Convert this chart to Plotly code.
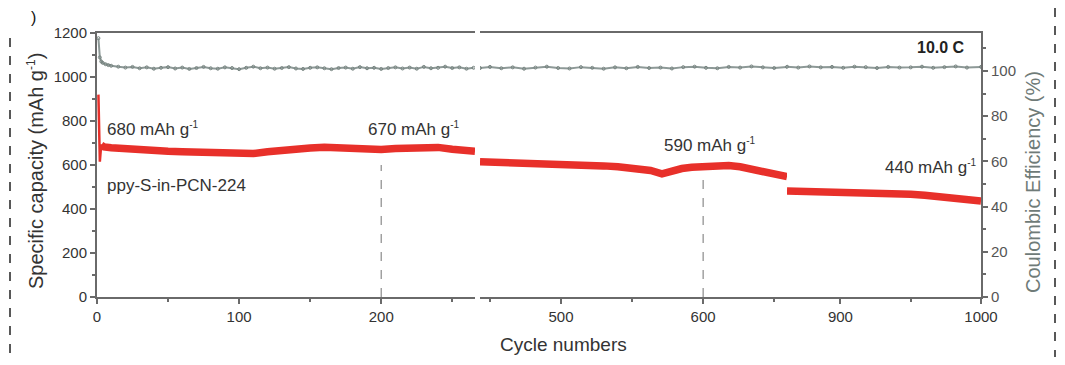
import plotly.graph_objects as go

# ---------------- data ----------------
# specific capacity (mAh g-1), three cycle windows of the broken x axis
cap0_x = [1, 2, 3]
cap0_y = [920, 615, 695]
cap1_x = [3, 5, 10, 20, 30, 40, 50, 60, 70, 80, 90, 100, 110, 120, 130, 140, 150, 160,
          170, 180, 190, 200, 210, 220, 230, 240, 250, 260, 266]
cap1_y = [690, 682, 678, 672, 668, 665, 662, 660, 659, 658, 657, 655, 652, 660, 668, 673,
          677, 681, 677, 673, 671, 671, 675, 679, 683, 680, 672, 666, 662]
cap2_x = [443, 450, 460, 470, 480, 490, 500, 510, 520, 530, 540, 550, 556, 563, 571, 578,
          585, 592, 600, 610, 618, 626, 634, 642, 650, 655, 659]
cap2_y = [615, 614, 612, 611, 609, 607, 604, 602, 599, 596, 592, 587, 582, 575, 560, 574,
          584, 590, 594, 598, 598, 592, 582, 570, 560, 552, 547]
cap3_x = [862, 870, 880, 890, 900, 910, 920, 930, 940, 950, 960, 970, 980, 990, 1000]
cap3_y = [482, 481, 482, 480, 479, 478, 476, 474, 471, 467, 462, 456, 449, 442, 436]

# coulombic efficiency (%)
ce1_x = [1, 2, 3, 4, 6, 8, 10, 15, 20, 25, 30, 35, 40, 45, 50, 55, 60, 65, 70, 75, 80, 85,
         90, 95, 100, 105, 110, 115, 120, 125, 130, 135, 140, 145, 150, 155, 160, 165, 170,
         175, 180, 185, 190, 195, 200, 205, 210, 215, 220, 225, 230, 235, 240, 245, 250,
         255, 260, 265]
ce1_y = [114.5, 106.0, 104.2, 103.6, 103.0, 102.6, 102.3, 101.9, 101.5, 101.8, 101.2, 101.6,
         101.0, 101.4, 101.7, 101.1, 101.5, 100.9, 101.3, 101.8, 101.2, 101.0, 101.6, 101.3,
         100.8, 101.4, 101.9, 101.2, 101.5, 101.0, 101.3, 101.7, 101.1, 100.9, 101.4, 101.6,
         101.2, 100.8, 101.3, 101.5, 101.0, 101.7, 101.2, 101.4, 100.9, 101.3, 101.6, 101.1,
         101.5, 101.0, 101.8, 101.2, 101.4, 101.9, 101.3, 101.6, 101.0, 101.4]
ce2_x = [443, 450, 458, 466, 474, 482, 490, 498, 506, 514, 522, 530, 538, 546, 554, 562,
         570, 578, 586, 594, 602, 610, 618, 626, 634, 642, 650, 659]
ce2_y = [101.3, 101.8, 101.2, 101.6, 101.0, 101.5, 101.9, 101.3, 101.1, 101.7, 101.4, 101.0,
         101.6, 101.2, 101.8, 101.3, 101.5, 101.1, 101.7, 101.9, 101.4, 101.2, 101.8, 101.5,
         102.0, 101.6, 101.3, 101.8]
ce3_x = [862, 870, 878, 886, 894, 902, 910, 918, 926, 934, 942, 950, 958, 966, 974, 982,
         990, 1000]
ce3_y = [101.9, 101.5, 102.0, 101.6, 101.8, 101.4, 101.9, 101.7, 101.3, 101.8, 101.5, 101.6,
         101.9, 101.4, 101.7, 102.0, 101.5, 101.8]

x_ranges = [[0, 266], [443, 659], [862, 1000]]
x_ticks = [[0, 100, 200], [500, 600], [900, 1000]]
x_minor = [[50, 150, 250], [450, 550, 650], [950]]
cap_ticks = [0, 200, 400, 600, 800, 1000, 1200]
cap_minor = [100, 300, 500, 700, 900, 1100]
ce_ticks = [0, 20, 40, 60, 80, 100]
ce_minor = [10, 30, 50, 70, 90, 110]

# ---------------- style ----------------
RED = "#e8302a"
GREY = "#8d9997"
AX = "#6a6a6a"
TXT = "#333333"
FONT = "Liberation Sans, Arial, sans-serif"
SUP = "<sup><span style='font-size:10px'>-1</span></sup>"

fig = go.Figure()

ce_sets = [(ce1_x, ce1_y, "x", "y4"), (ce2_x, ce2_y, "x2", "y5"), (ce3_x, ce3_y, "x3", "y6")]
for xs, ys, xa, ya in ce_sets:
    fig.add_trace(go.Scatter(x=xs, y=ys, xaxis=xa, yaxis=ya, mode="lines+markers",
                             line=dict(color=GREY, width=2),
                             marker=dict(symbol="circle-open", size=3, color="#76837f",
                                         line=dict(width=1)),
                             showlegend=False, hoverinfo="skip"))

fig.add_trace(go.Scatter(x=cap0_x, y=cap0_y, xaxis="x", yaxis="y", mode="lines",
                         line=dict(color=RED, width=2.5), showlegend=False))
cap_sets = [(cap1_x, cap1_y, "x", "y"), (cap2_x, cap2_y, "x2", "y2"), (cap3_x, cap3_y, "x3", "y3")]
for xs, ys, xa, ya in cap_sets:
    fig.add_trace(go.Scatter(x=xs, y=ys, xaxis=xa, yaxis=ya, mode="lines",
                             line=dict(color=RED, width=7.5), showlegend=False))

# the page body adds an 8px offset, so the figure is sized/margined to compensate
OFF = 8
L, R, T, B = 97, 84, 33, 68          # plot-area edges in page pixels
W, H = 1065, 365
PW, PH = W - L - R, H - T - B
px = lambda p: (p - L) / PW
py = lambda p: (H - B - p) / PH

domains = [[0, px(475)], [px(480), px(787)], [px(787), 1]]

common_x = dict(showline=True, linecolor=AX, linewidth=2, mirror=True, ticks="outside",
                ticklen=5, tickwidth=1.5, tickcolor=AX, showgrid=False, zeroline=False,
                tickfont=dict(family=FONT, size=15, color=TXT))
layout = dict(width=W - 2 * OFF, height=H - 2 * OFF,
              margin=dict(l=L - OFF, r=R - OFF, t=T - OFF, b=B - OFF),
              paper_bgcolor="white", plot_bgcolor="white", font=dict(family=FONT))
names = ["xaxis", "xaxis2", "xaxis3"]
for i, n in enumerate(names):
    layout[n] = dict(common_x, domain=domains[i], range=x_ranges[i], anchor=["y", "y2", "y3"][i],
                     tickmode="array", tickvals=x_ticks[i],
                     minor=dict(tickvals=x_minor[i], ticks="outside", ticklen=3,
                                tickwidth=1.5, tickcolor=AX))

layout["yaxis"] = dict(domain=[0, 1], range=[0, 1200], anchor="x", showline=True, linecolor=AX,
                       linewidth=2, ticks="outside", ticklen=5, tickwidth=1.5, tickcolor=AX,
                       tickmode="array", tickvals=cap_ticks, showgrid=False, zeroline=False,
                       tickfont=dict(family=FONT, size=15, color=TXT),
                       minor=dict(tickvals=cap_minor, ticks="outside", ticklen=3,
                                  tickwidth=1.5, tickcolor=AX))
layout["yaxis2"] = dict(domain=[0, 1], range=[0, 1200], anchor="x2", visible=False)
layout["yaxis3"] = dict(domain=[0, 1], range=[0, 1200], anchor="x3", visible=False)
layout["yaxis4"] = dict(range=[0, 116.8], anchor="x", overlaying="y", visible=False)
layout["yaxis5"] = dict(range=[0, 116.8], anchor="x2", overlaying="y2", visible=False)
layout["yaxis6"] = dict(range=[0, 116.8], anchor="x3", overlaying="y3", side="right",
                        showline=True, linecolor=AX, linewidth=2, ticks="outside", ticklen=5,
                        tickwidth=1.5, tickcolor=AX, tickmode="array", tickvals=ce_ticks,
                        showgrid=False, zeroline=False,
                        tickfont=dict(family=FONT, size=15, color="#555555"),
                        minor=dict(tickvals=ce_minor, ticks="outside", ticklen=3,
                                   tickwidth=1.5, tickcolor=AX))
fig.update_layout(**layout)

ann_font = dict(family=FONT, size=17, color=TXT)
anns = [
    dict(x=5.6, y=764, xref="x", yref="y", text="680 mAh g" + SUP, xanchor="left"),
    dict(x=189, y=764, xref="x", yref="y", text="670 mAh g" + SUP, xanchor="left"),
    dict(x=571, y=691, xref="x2", yref="y2", text="590 mAh g" + SUP, xanchor="left"),
    dict(x=930, y=591, xref="x3", yref="y3", text="440 mAh g" + SUP, xanchor="left"),
    dict(x=5.6, y=509, xref="x", yref="y", text="ppy-S-in-PCN-224", xanchor="left"),
]
for a in anns:
    fig.add_annotation(**a, showarrow=False, yanchor="middle", font=ann_font)
fig.add_annotation(x=990, y=1132, xref="x3", yref="y3", text="<b>10.0 C</b>", showarrow=False,
                   xanchor="right", yanchor="middle", font=dict(family=FONT, size=16, color="#222"))

# axis titles
cen = dict(xref="paper", yref="paper", xanchor="center", yanchor="middle", showarrow=False)
fig.add_annotation(x=px(35), y=py(171),
                   text="Specific capacity (mAh g" + "<sup><span style='font-size:12px'>-1</span></sup>)",
                   textangle=-90, font=dict(family=FONT, size=20, color=TXT), **cen)
fig.add_annotation(x=px(1033), y=py(182), text="Coulombic Efficiency (%)", textangle=-90,
                   font=dict(family=FONT, size=20, color="#6f7b78"), **cen)
fig.add_annotation(x=px(563), y=py(344), text="Cycle numbers",
                   font=dict(family=FONT, size=19, color=TXT), **cen)
fig.add_annotation(x=px(33), y=py(18), text=")", font=dict(family=FONT, size=16, color="#111"),
                   **cen)

# dashed guide lines
fig.add_shape(type="line", xref="x", yref="y", x0=200, x1=200, y0=0, y1=600,
              line=dict(color="#8a8a8a", width=1.2, dash="dash"))
fig.add_shape(type="line", xref="x2", yref="y2", x0=600, x1=600, y0=0, y1=540,
              line=dict(color="#8a8a8a", width=1.2, dash="dash"))

# dashed frame pieces of the original panel
fig.add_shape(type="line", xref="paper", yref="paper", x0=px(10), x1=px(10), y0=py(38), y1=py(357),
              line=dict(color="#222", width=1.5, dash="dash"))
fig.add_shape(type="line", xref="paper", yref="paper", x0=px(1055), x1=px(1055), y0=py(8),
              y1=py(357), line=dict(color="#222", width=1.5, dash="dash"))

fig.write_html("out.html")
